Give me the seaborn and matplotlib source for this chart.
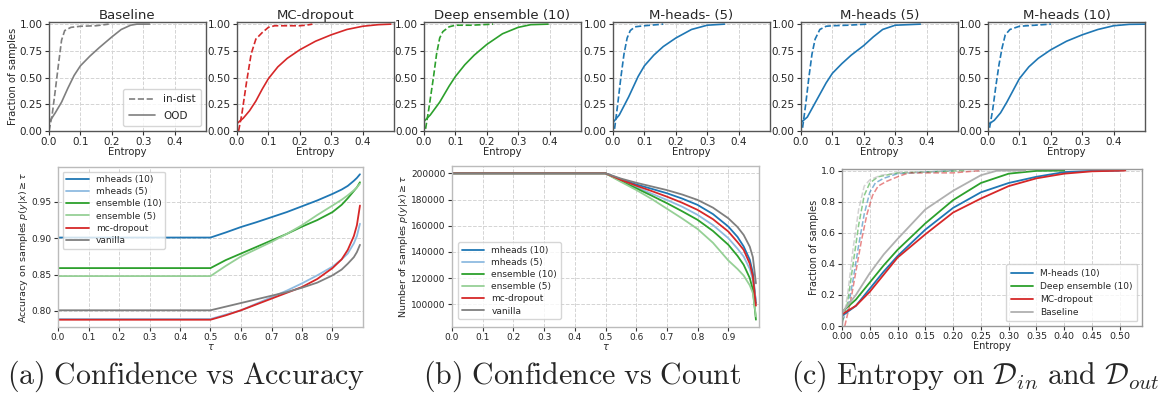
import matplotlib
matplotlib.use("Agg")
import matplotlib.pyplot as plt
import seaborn as sns
import numpy as np
import pandas as pd

# ---------------- data: top row (CDF of entropy) ----------------
titles = ["Baseline", "MC-dropout", "Deep ensemble (10)", "M-heads- (5)", "M-heads (5)", "M-heads (10)"]
top_colors = ["#7f7f7f", "#d62728", "#2ca02c", "#1f77b4", "#1f77b4", "#1f77b4"]

base_in_x = [0, 0.01, 0.02, 0.03, 0.04, 0.05, 0.07, 0.1, 0.15, 0.19]
base_in_y = [0, 0.15, 0.38, 0.62, 0.85, 0.94, 0.97, 0.98, 0.985, 1.0]
base_ood_x = [0, 0.02, 0.04, 0.06, 0.08, 0.1, 0.13, 0.16, 0.2, 0.23, 0.26, 0.28, 0.32]
base_ood_y = [0.08, 0.17, 0.27, 0.4, 0.52, 0.61, 0.7, 0.78, 0.88, 0.95, 0.99, 1.0, 1.0]

mc_in_x = [0.005, 0.015, 0.03, 0.045, 0.06, 0.08, 0.1, 0.12, 0.2, 0.22, 0.24]
mc_in_y = [0, 0.15, 0.45, 0.72, 0.86, 0.92, 0.97, 0.985, 0.985, 0.99, 1.0]
mc_ood_x = [0, 0.02, 0.04, 0.06, 0.08, 0.1, 0.13, 0.16, 0.2, 0.25, 0.3, 0.35, 0.4, 0.45, 0.49]
mc_ood_y = [0.07, 0.12, 0.19, 0.28, 0.39, 0.49, 0.6, 0.68, 0.76, 0.84, 0.9, 0.95, 0.98, 0.995, 1.0]

ens_in_x = [0.005, 0.015, 0.03, 0.04, 0.05, 0.06, 0.08, 0.1, 0.15, 0.22]
ens_in_y = [0.02, 0.2, 0.5, 0.72, 0.87, 0.93, 0.975, 0.99, 0.99, 1.0]
ens_ood_x = [0, 0.02, 0.05, 0.08, 0.1, 0.13, 0.16, 0.2, 0.25, 0.3, 0.34, 0.395]
ens_ood_y = [0.09, 0.15, 0.27, 0.42, 0.51, 0.62, 0.71, 0.81, 0.91, 0.97, 0.995, 1.0]

mhm5_in_x = [0.005, 0.015, 0.025, 0.035, 0.045, 0.055, 0.07, 0.1, 0.16]
mhm5_in_y = [0.02, 0.25, 0.5, 0.72, 0.87, 0.94, 0.975, 0.985, 1.0]
mhm5_ood_x = [0, 0.02, 0.05, 0.08, 0.1, 0.13, 0.16, 0.2, 0.25, 0.3, 0.355]
mhm5_ood_y = [0.08, 0.15, 0.32, 0.51, 0.61, 0.71, 0.79, 0.87, 0.95, 0.99, 1.0]

mh5_in_x = [0.005, 0.015, 0.025, 0.035, 0.045, 0.06, 0.08, 0.1, 0.15, 0.21]
mh5_in_y = [0.03, 0.25, 0.5, 0.72, 0.86, 0.95, 0.98, 0.985, 0.99, 1.0]
mh5_ood_x = [0, 0.02, 0.05, 0.08, 0.1, 0.13, 0.16, 0.2, 0.23, 0.26, 0.3, 0.38]
mh5_ood_y = [0.08, 0.13, 0.29, 0.45, 0.54, 0.63, 0.71, 0.8, 0.88, 0.95, 0.99, 1.0]

mh10_in_x = [0.005, 0.015, 0.025, 0.035, 0.045, 0.055, 0.07, 0.1, 0.15, 0.2]
mh10_in_y = [0.03, 0.2, 0.42, 0.62, 0.78, 0.9, 0.95, 0.98, 0.99, 1.0]
mh10_ood_x = [0, 0.02, 0.04, 0.06, 0.08, 0.1, 0.13, 0.16, 0.2, 0.25, 0.3, 0.35, 0.4, 0.45, 0.5]
mh10_ood_y = [0.06, 0.1, 0.17, 0.27, 0.38, 0.49, 0.6, 0.68, 0.76, 0.84, 0.9, 0.95, 0.985, 0.998, 1.0]

top_in = [(base_in_x, base_in_y), (mc_in_x, mc_in_y), (ens_in_x, ens_in_y),
          (mhm5_in_x, mhm5_in_y), (mh5_in_x, mh5_in_y), (mh10_in_x, mh10_in_y)]
top_ood = [(base_ood_x, base_ood_y), (mc_ood_x, mc_ood_y), (ens_ood_x, ens_ood_y),
           (mhm5_ood_x, mhm5_ood_y), (mh5_ood_x, mh5_ood_y), (mh10_ood_x, mh10_ood_y)]

# ---------------- data: (a) accuracy and (b) count vs tau ----------------
tau = [0, 0.5, 0.55, 0.6, 0.65, 0.7, 0.75, 0.8, 0.85, 0.9, 0.93, 0.95, 0.97, 0.98, 0.99]
method_names = ["mheads (10)", "mheads (5)", "ensemble (10)", "ensemble (5)", "mc-dropout", "vanilla"]

acc_mheads10 = [0.901, 0.901, 0.908, 0.9155, 0.922, 0.929, 0.936, 0.944, 0.952, 0.961, 0.967, 0.972, 0.979, 0.983, 0.988]
acc_mheads5 = [0.789, 0.789, 0.795, 0.801, 0.81, 0.819, 0.828, 0.838, 0.849, 0.861, 0.871, 0.879, 0.893, 0.903, 0.92]
acc_ens10 = [0.859, 0.859, 0.870, 0.879, 0.888, 0.897, 0.906, 0.916, 0.925, 0.936, 0.946, 0.955, 0.965, 0.970, 0.977]
acc_ens5 = [0.848, 0.848, 0.862, 0.875, 0.885, 0.895, 0.906, 0.918, 0.932, 0.945, 0.953, 0.959, 0.966, 0.970, 0.975]
acc_mc = [0.788, 0.788, 0.794, 0.801, 0.809, 0.817, 0.825, 0.833, 0.844, 0.859, 0.871, 0.884, 0.903, 0.918, 0.945]
acc_vanilla = [0.801, 0.801, 0.806, 0.811, 0.816, 0.821, 0.826, 0.832, 0.839, 0.849, 0.857, 0.865, 0.874, 0.881, 0.891]

cnt_mheads10 = [200000, 200000, 195500, 191500, 188200, 184800, 180700, 175900, 168900, 159400, 151500, 144200, 134000, 124000, 101000]
cnt_mheads5 = [200000, 200000, 194500, 189500, 184500, 179700, 174500, 168300, 160500, 150500, 142500, 136500, 127000, 118800, 102300]
cnt_ens10 = [200000, 200000, 194000, 188600, 183000, 177200, 171000, 164500, 156000, 145500, 137000, 130200, 120000, 111200, 88300]
cnt_ens5 = [200000, 200000, 193500, 187300, 180500, 173000, 165500, 157500, 147000, 133500, 127000, 122000, 114500, 108600, 90800]
cnt_mc = [200000, 200000, 195000, 190600, 186500, 182200, 177500, 172100, 165000, 155600, 147500, 141600, 131000, 121300, 99000]
cnt_vanilla = [200000, 200000, 196000, 192800, 190000, 187200, 183800, 179700, 173800, 165700, 159000, 153000, 144000, 136000, 116000]

acc_all = [acc_mheads10, acc_mheads5, acc_ens10, acc_ens5, acc_mc, acc_vanilla]
cnt_all = [cnt_mheads10, cnt_mheads5, cnt_ens10, cnt_ens5, cnt_mc, cnt_vanilla]
method_colors = ["#1f77b4", "#8fbbe0", "#2ca02c", "#96d096", "#d62728", "#7f7f7f"]

# ---------------- data: (c) entropy combined ----------------
c_names = ["M-heads (10)", "Deep ensemble (10)", "MC-dropout", "Baseline"]
c_colors = ["#1f77b4", "#2ca02c", "#d62728", "#b0b0b0"]

c_mh_ood_x = [0, 0.025, 0.05, 0.075, 0.1, 0.15, 0.2, 0.25, 0.3, 0.35, 0.4, 0.45, 0.5]
c_mh_ood_y = [0.065, 0.13, 0.24, 0.35, 0.45, 0.62, 0.76, 0.86, 0.92, 0.96, 0.99, 0.998, 1.0]
c_ens_ood_x = [0, 0.025, 0.05, 0.075, 0.1, 0.15, 0.2, 0.25, 0.3, 0.35, 0.4]
c_ens_ood_y = [0.09, 0.17, 0.28, 0.39, 0.49, 0.66, 0.81, 0.92, 0.98, 0.998, 1.0]
c_mc_ood_x = [0, 0.025, 0.05, 0.075, 0.1, 0.15, 0.2, 0.25, 0.3, 0.35, 0.4, 0.45, 0.51]
c_mc_ood_y = [0.075, 0.13, 0.22, 0.33, 0.44, 0.59, 0.73, 0.82, 0.9, 0.95, 0.98, 0.995, 1.0]
c_base_ood_x = [0, 0.025, 0.05, 0.075, 0.1, 0.15, 0.2, 0.25, 0.28, 0.33]
c_base_ood_y = [0.085, 0.2, 0.34, 0.46, 0.56, 0.75, 0.87, 0.97, 1.0, 1.0]

c_mh_in_x = [0, 0.01, 0.02, 0.03, 0.04, 0.05, 0.06, 0.075, 0.1, 0.15, 0.2]
c_mh_in_y = [0.03, 0.1, 0.3, 0.52, 0.72, 0.86, 0.92, 0.95, 0.98, 0.99, 1.0]
c_ens_in_x = [0, 0.01, 0.02, 0.03, 0.04, 0.05, 0.065, 0.1, 0.15, 0.22]
c_ens_in_y = [0.02, 0.15, 0.4, 0.65, 0.84, 0.92, 0.96, 0.985, 0.99, 1.0]
c_mc_in_x = [0.005, 0.015, 0.025, 0.035, 0.045, 0.055, 0.065, 0.08, 0.1, 0.12, 0.2, 0.25]
c_mc_in_y = [0, 0.15, 0.35, 0.55, 0.72, 0.84, 0.9, 0.93, 0.96, 0.985, 0.985, 1.0]
c_base_in_x = [0, 0.01, 0.02, 0.03, 0.04, 0.05, 0.07, 0.1, 0.15, 0.2]
c_base_in_y = [0, 0.2, 0.5, 0.75, 0.9, 0.94, 0.97, 0.985, 0.99, 1.0]

c_ood = [(c_mh_ood_x, c_mh_ood_y), (c_ens_ood_x, c_ens_ood_y), (c_mc_ood_x, c_mc_ood_y), (c_base_ood_x, c_base_ood_y)]
c_in = [(c_mh_in_x, c_mh_in_y), (c_ens_in_x, c_ens_in_y), (c_mc_in_x, c_mc_in_y), (c_base_in_x, c_base_in_y)]

captions = [r"$\mathrm{(a)\ Confidence\ vs\ Accuracy}$",
            r"$\mathrm{(b)\ Confidence\ vs\ Count}$",
            r"$\mathrm{(c)\ Entropy\ on\ }\mathcal{D}_{in}\mathrm{\ and\ }\mathcal{D}_{out}$"]

# ---------------- style ----------------
sns.set_style("whitegrid", {"grid.linestyle": "--", "grid.color": "#d4d4d4"})
plt.rcParams["font.family"] = ["DejaVu Sans"]
plt.rcParams["grid.linewidth"] = 0.7

W, H = 1163, 398
fig = plt.figure(figsize=(W / 100, H / 100), dpi=100)


def box(l, t, r, b):
    return [l / W, 1 - b / H, (r - l) / W, (b - t) / H]


def style_ax(ax, spine_color, fs):
    for s in ax.spines.values():
        s.set_color(spine_color)
        s.set_linewidth(1.0)
    ax.tick_params(axis="both", which="major", labelsize=fs, length=3, width=0.8,
                   color="#333333", pad=1.5, bottom=True, left=True)
    ax.grid(True, linestyle="--", color="#d4d4d4", linewidth=0.7)


# top row
lefts = [49, 237, 424, 613, 801, 988]
for i, l in enumerate(lefts):
    ax = fig.add_axes(box(l, 22, l + 157, 131))
    xi, yi = top_in[i]
    xo, yo = top_ood[i]
    sns.lineplot(x=xi, y=yi, ax=ax, color=top_colors[i], linestyle="--", lw=1.2,
                 label="in-dist", legend=False, sort=False)
    sns.lineplot(x=xo, y=yo, ax=ax, color=top_colors[i], linestyle="-", lw=1.2,
                 label="OOD", legend=False, sort=False)
    ax.set_xlim(0, 0.5)
    ax.set_ylim(0, 1.02)
    ax.set_xticks([0, 0.1, 0.2, 0.3, 0.4])
    ax.set_yticks([0, 0.25, 0.5, 0.75, 1.0])
    ax.set_yticklabels(["0.00", "0.25", "0.50", "0.75", "1.00"])
    style_ax(ax, "#555555", 7.5)
    ax.set_title(titles[i], fontsize=9.5, pad=2)
    ax.set_xlabel("Entropy", fontsize=7.2, labelpad=0)
    if i == 0:
        ax.set_ylabel("Fraction of samples", fontsize=7.2, labelpad=1)
        ax.legend(loc="lower right", fontsize=7.5, handlelength=2.5, frameon=True,
                  borderpad=0.5, labelspacing=0.6)

# (a)
axa = fig.add_axes(box(58, 167, 363, 327))
for name, vals, col in zip(method_names, acc_all, method_colors):
    sns.lineplot(x=tau, y=vals, ax=axa, color=col, lw=1.3, label=name, legend=False, sort=False)
axa.set_xlim(0, 1.0)
axa.set_xticks(np.arange(0, 1.0, 0.1))
axa.set_yticks([0.80, 0.85, 0.90, 0.95])
style_ax(axa, "#bbbbbb", 6.5)
axa.set_xlabel(r"$\tau$", fontsize=7, labelpad=0)
axa.set_ylabel(r"Accuracy on samples $p(y|x) \geq \tau$", fontsize=6.8, labelpad=1)
axa.legend(loc="upper left", fontsize=6.5, handlelength=2.5, frameon=True,
           borderpad=0.4, labelspacing=0.35)

# (b)
axb = fig.add_axes(box(452, 166, 759, 327))
for name, vals, col in zip(method_names, cnt_all, method_colors):
    sns.lineplot(x=tau, y=vals, ax=axb, color=col, lw=1.3, label=name, legend=False, sort=False)
axb.set_xlim(0, 1.0)
axb.set_xticks(np.arange(0, 1.0, 0.1))
axb.set_yticks([100000, 120000, 140000, 160000, 180000, 200000])
axb.ticklabel_format(axis="y", style="plain", useOffset=False)
style_ax(axb, "#bbbbbb", 6.5)
axb.set_xlabel(r"$\tau$", fontsize=7, labelpad=0)
axb.set_ylabel(r"Number of samples $p(y|x) \geq \tau$", fontsize=6.8, labelpad=1)
axb.legend(loc="lower left", bbox_to_anchor=(0.005, 0.02), fontsize=6.5, handlelength=2.5,
           frameon=True, borderpad=0.4, labelspacing=0.35)

# (c)
axc = fig.add_axes(box(842, 169, 1142, 326))
for (xi, yi), col in zip(c_in, c_colors):
    sns.lineplot(x=xi, y=yi, ax=axc, color=col, lw=1.1, linestyle="--", alpha=0.55,
                 legend=False, sort=False)
for name, (xo, yo), col in zip(c_names, c_ood, c_colors):
    sns.lineplot(x=xo, y=yo, ax=axc, color=col, lw=1.3, label=name, legend=False, sort=False)
axc.set_xlim(0, 0.54)
axc.set_ylim(0, 1.01)
axc.set_xticks(np.arange(0, 0.51, 0.05))
axc.set_xticklabels([f"{v:.2f}" for v in np.arange(0, 0.51, 0.05)])
axc.set_yticks([0, 0.2, 0.4, 0.6, 0.8, 1.0])
style_ax(axc, "#999999", 6.8)
axc.set_xlabel("Entropy", fontsize=7, labelpad=0)
axc.set_ylabel("Fraction of samples", fontsize=7, labelpad=1)
handles, labels = axc.get_legend_handles_labels()
axc.legend(handles, labels, loc="lower right", fontsize=6.5, handlelength=2.5, frameon=True,
           borderpad=0.5, labelspacing=0.45)

# captions
for cx, txt in zip([186, 582, 975], captions):
    fig.text(cx / W, 1 - 376 / H, txt, ha="center", va="center", fontsize=21.5,
             math_fontfamily="cm")

fig.savefig("out.png", dpi=100)
